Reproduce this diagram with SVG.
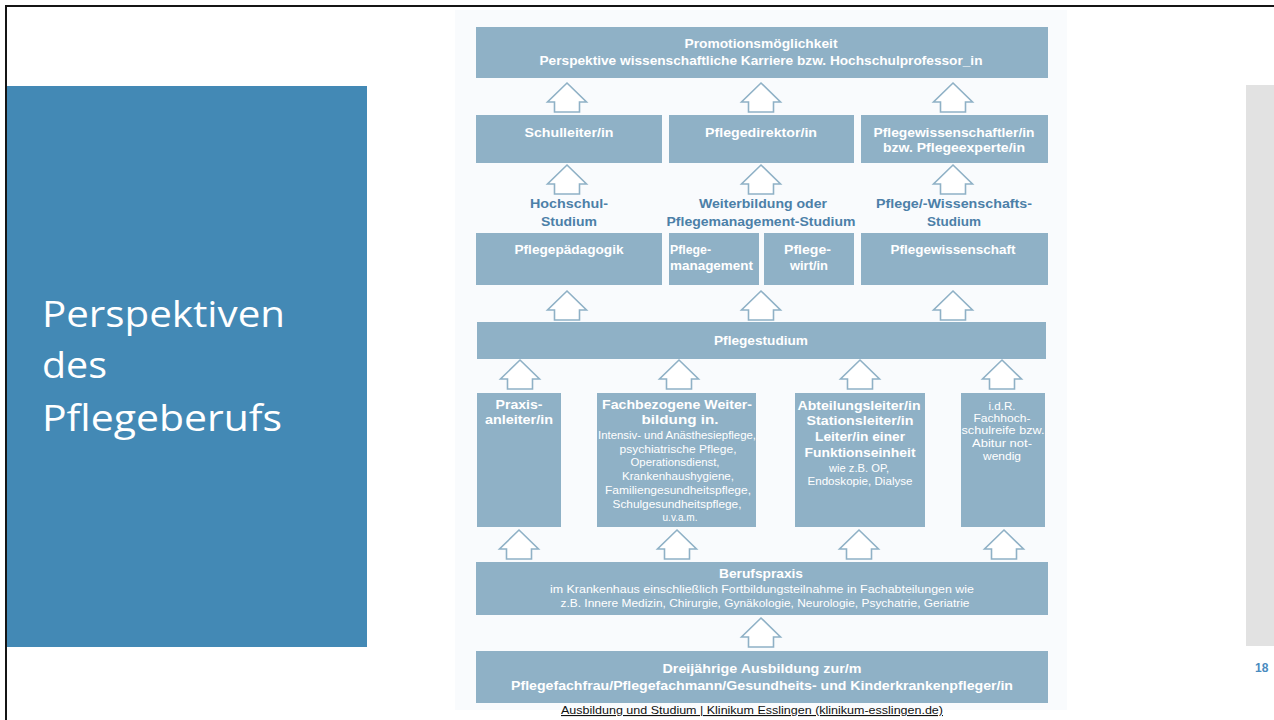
<svg xmlns="http://www.w3.org/2000/svg" width="1274" height="720" viewBox="0 0 1274 720">
<style>
.bx{fill:#8fb1c6}
.t{font-family:"Liberation Sans Narrow","Liberation Sans",Arial,sans-serif;font-weight:bold;fill:#ffffff;text-anchor:middle}
.m{font-size:13px}
.l{font-size:13.5px}
.s{font-size:11.5px;font-weight:normal}
.lab{font-family:"Liberation Sans Narrow","Liberation Sans",Arial,sans-serif;font-weight:bold;font-size:13.5px;fill:#4c80a8;text-anchor:middle}
.st{text-anchor:start}
.arr{fill:#ffffff;stroke:#8fb1c6;stroke-width:1.6;stroke-linejoin:miter}
</style>
<defs>
<path id="ar" d="M0,0 L19.5,19 L12.5,19 L12.5,29 L-12.5,29 L-12.5,19 L-19.5,19 Z"/>
</defs>
<rect width="1274" height="720" fill="#ffffff"/>
<rect x="455" y="10" width="612" height="700" fill="#f9fbfd"/>
<path d="M6,720 V6 H1274" fill="none" stroke="#151515" stroke-width="2"/>
<g id="title">
<rect x="7" y="86" width="360" height="561" fill="#4389b5"/>
<text font-family="'Open Sans','Noto Sans',sans-serif" font-size="36" fill="#ffffff">
<tspan x="42" y="327" textLength="243" lengthAdjust="spacingAndGlyphs">Perspektiven</tspan>
<tspan x="42" y="378" textLength="65" lengthAdjust="spacingAndGlyphs">des</tspan>
<tspan x="42" y="431" textLength="240" lengthAdjust="spacingAndGlyphs">Pflegeberufs</tspan>
</text>
</g>
<rect x="1246" y="85" width="28" height="561" fill="#e2e2e2"/>
<text x="1255" y="672" font-family="'Liberation Sans',Arial,sans-serif" font-weight="bold" font-size="12" fill="#4a8bbf">18</text>

<g id="connectors">
<use href="#ar" class="arr" x="567" y="83"/>
<use href="#ar" class="arr" x="761" y="83"/>
<use href="#ar" class="arr" x="953" y="83"/>
<use href="#ar" class="arr" x="567" y="165"/>
<use href="#ar" class="arr" x="761" y="165"/>
<use href="#ar" class="arr" x="953" y="165"/>
<use href="#ar" class="arr" x="567" y="291"/>
<use href="#ar" class="arr" x="761" y="291"/>
<use href="#ar" class="arr" x="953" y="291"/>
<use href="#ar" class="arr" x="520" y="360"/>
<use href="#ar" class="arr" x="679" y="360"/>
<use href="#ar" class="arr" x="860" y="360"/>
<use href="#ar" class="arr" x="1002" y="360"/>
<use href="#ar" class="arr" x="519" y="530"/>
<use href="#ar" class="arr" x="677" y="530"/>
<use href="#ar" class="arr" x="859" y="530"/>
<use href="#ar" class="arr" x="1004" y="530"/>
<use href="#ar" class="arr" x="761" y="618"/>
</g>

<g id="promotion">
<rect class="bx" x="476" y="27" width="572" height="51"/>
<text class="t m" x="761" y="48" textLength="153" lengthAdjust="spacingAndGlyphs">Promotionsmöglichkeit</text>
<text class="t m" x="761" y="65" textLength="443" lengthAdjust="spacingAndGlyphs">Perspektive wissenschaftliche Karriere bzw. Hochschulprofessor_in</text>
</g>
<g id="schulleiter">
<rect class="bx" x="476" y="115" width="186" height="48"/>
<text class="t m" x="569" y="137" textLength="89" lengthAdjust="spacingAndGlyphs">Schulleiter/in</text>
</g>
<g id="pflegedirektor">
<rect class="bx" x="669" y="115" width="185" height="48"/>
<text class="t m" x="761" y="137" textLength="112" lengthAdjust="spacingAndGlyphs">Pflegedirektor/in</text>
</g>
<g id="pflegewissenschaftler">
<rect class="bx" x="861" y="115" width="187" height="48"/>
<text class="t m" x="954" y="137" textLength="161" lengthAdjust="spacingAndGlyphs">Pflegewissenschaftler/in</text>
<text class="t m" x="954" y="152" textLength="142" lengthAdjust="spacingAndGlyphs">bzw. Pflegeexperte/in</text>
</g>
<g id="labels">
<text class="lab" x="569" y="208" textLength="78" lengthAdjust="spacingAndGlyphs">Hochschul-</text>
<text class="lab" x="569" y="226" textLength="56" lengthAdjust="spacingAndGlyphs">Studium</text>
<text class="lab" x="763" y="208" textLength="128" lengthAdjust="spacingAndGlyphs">Weiterbildung oder</text>
<text class="lab" x="761" y="226" textLength="189" lengthAdjust="spacingAndGlyphs">Pflegemanagement-Studium</text>
<text class="lab" x="954" y="208" textLength="156" lengthAdjust="spacingAndGlyphs">Pflege/-Wissenschafts-</text>
<text class="lab" x="954" y="226" textLength="54" lengthAdjust="spacingAndGlyphs">Studium</text>
</g>
<g id="pflegepaedagogik">
<rect class="bx" x="476" y="233" width="186" height="52"/>
<text class="t m" x="569" y="254" textLength="109" lengthAdjust="spacingAndGlyphs">Pflegepädagogik</text>
</g>
<g id="pflegemanagement">
<rect class="bx" x="669" y="233" width="90" height="52"/>
<text class="t m st" x="670" y="254" textLength="41" lengthAdjust="spacingAndGlyphs">Pflege-</text>
<text class="t m st" x="670" y="270" textLength="83" lengthAdjust="spacingAndGlyphs">management</text>
</g>
<g id="pflegewirt">
<rect class="bx" x="764" y="233" width="90" height="52"/>
<text class="t m st" x="784" y="254" textLength="47" lengthAdjust="spacingAndGlyphs">Pflege-</text>
<text class="t m st" x="790" y="270" textLength="38" lengthAdjust="spacingAndGlyphs">wirt/in</text>
</g>
<g id="pflegewissenschaft">
<rect class="bx" x="861" y="233" width="187" height="52"/>
<text class="t m" x="953" y="254" textLength="125" lengthAdjust="spacingAndGlyphs">Pflegewissenschaft</text>
</g>
<g id="pflegestudium">
<rect class="bx" x="477" y="322" width="569" height="37"/>
<text class="t m" x="761" y="345" textLength="94" lengthAdjust="spacingAndGlyphs">Pflegestudium</text>
</g>
<g id="praxisanleiter">
<rect class="bx" x="477" y="393" width="84" height="134"/>
<text class="t l" x="519" y="409" textLength="47" lengthAdjust="spacingAndGlyphs">Praxis-</text>
<text class="t l" x="519" y="424" textLength="68" lengthAdjust="spacingAndGlyphs">anleiter/in</text>
</g>
<g id="fachweiterbildung">
<rect class="bx" x="597" y="393" width="159" height="134"/>
<text class="t l" x="677" y="409" textLength="150" lengthAdjust="spacingAndGlyphs">Fachbezogene Weiter-</text>
<text class="t l" x="680" y="424" textLength="77" lengthAdjust="spacingAndGlyphs">bildung in.</text>
<text class="t s" x="677" y="439" textLength="158" lengthAdjust="spacingAndGlyphs">Intensiv- und Anästhesiepflege,</text>
<text class="t s" x="678" y="453" textLength="117" lengthAdjust="spacingAndGlyphs">psychiatrische Pflege,</text>
<text class="t s" x="675" y="466" textLength="89" lengthAdjust="spacingAndGlyphs">Operationsdienst,</text>
<text class="t s" x="678" y="480" textLength="112" lengthAdjust="spacingAndGlyphs">Krankenhaushygiene,</text>
<text class="t s" x="678" y="494" textLength="146" lengthAdjust="spacingAndGlyphs">Familiengesundheitspflege,</text>
<text class="t s" x="677" y="508" textLength="129" lengthAdjust="spacingAndGlyphs">Schulgesundheitspflege,</text>
<text class="t s" x="680" y="521" textLength="35" lengthAdjust="spacingAndGlyphs">u.v.a.m.</text>
</g>
<g id="abteilungsleiter">
<rect class="bx" x="795" y="393" width="130" height="134"/>
<text class="t l" x="859" y="410" textLength="123" lengthAdjust="spacingAndGlyphs">Abteilungsleiter/in</text>
<text class="t l" x="860" y="425" textLength="107" lengthAdjust="spacingAndGlyphs">Stationsleiter/in</text>
<text class="t l" x="860" y="441" textLength="90" lengthAdjust="spacingAndGlyphs">Leiter/in einer</text>
<text class="t l" x="860" y="457" textLength="111" lengthAdjust="spacingAndGlyphs">Funktionseinheit</text>
<text class="t s" x="859" y="472" textLength="60" lengthAdjust="spacingAndGlyphs">wie z.B. OP,</text>
<text class="t s" x="860" y="485" textLength="105" lengthAdjust="spacingAndGlyphs">Endoskopie, Dialyse</text>
</g>
<g id="zugang">
<rect class="bx" x="961" y="393" width="84" height="134"/>
<text class="t s" x="1002" y="410" textLength="27" lengthAdjust="spacingAndGlyphs">i.d.R.</text>
<text class="t s" x="1002" y="422" textLength="57" lengthAdjust="spacingAndGlyphs">Fachhoch-</text>
<text class="t s" x="1003" y="434" textLength="83" lengthAdjust="spacingAndGlyphs">schulreife bzw.</text>
<text class="t s" x="1002" y="447" textLength="60" lengthAdjust="spacingAndGlyphs">Abitur not-</text>
<text class="t s" x="1002" y="460" textLength="38" lengthAdjust="spacingAndGlyphs">wendig</text>
</g>
<g id="berufspraxis">
<rect class="bx" x="476" y="562" width="572" height="53"/>
<text class="t m" x="761" y="578" textLength="84" lengthAdjust="spacingAndGlyphs">Berufspraxis</text>
<text class="t s" x="762" y="593" textLength="424" lengthAdjust="spacingAndGlyphs">im Krankenhaus einschließlich Fortbildungsteilnahme in Fachabteilungen wie</text>
<text class="t s" x="765" y="607" textLength="409" lengthAdjust="spacingAndGlyphs">z.B. Innere Medizin, Chirurgie, Gynäkologie, Neurologie, Psychatrie, Geriatrie</text>
</g>
<g id="ausbildung">
<rect class="bx" x="476" y="651" width="572" height="52"/>
<text class="t l" x="762" y="673" textLength="199" lengthAdjust="spacingAndGlyphs">Dreijährige Ausbildung zur/m</text>
<text class="t l" x="762" y="690" textLength="502" lengthAdjust="spacingAndGlyphs">Pflegefachfrau/Pflegefachmann/Gesundheits- und Kinderkrankenpfleger/in</text>
</g>
<text x="752" y="714" text-anchor="middle" font-family="'Liberation Sans',Arial,sans-serif" font-size="11" fill="#111111" text-decoration="underline" textLength="382" lengthAdjust="spacingAndGlyphs">Ausbildung und Studium | Klinikum Esslingen (klinikum-esslingen.de)</text>
</svg>
